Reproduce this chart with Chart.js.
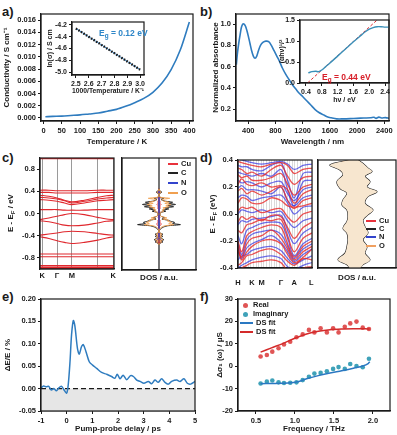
<!DOCTYPE html>
<html>
<head>
<meta charset="utf-8">
<script src="https://cdn.jsdelivr.net/npm/chart.js@4.4.1/dist/chart.umd.min.js"></script>
<style>
  body { margin: 0; width: 397px; height: 435px; position: relative; overflow: hidden; background: #fff;
         font-family: 'Liberation Sans', Arial, sans-serif; color: #1a1a1a; }
  canvas { position: absolute; }
  .pl { position: absolute; font-weight: bold; font-size: 13px; }
  .t { position: absolute; font-weight: bold; font-size: 8px; white-space: nowrap; line-height: 10px; }
  .rot { transform: translate(-50%, -50%) rotate(-90deg); }
  .lg { position: absolute; font-weight: bold; font-size: 7.5px; white-space: nowrap; line-height: 8px; }
  .lg i { display: inline-block; width: 10px; height: 1.5px; vertical-align: middle; margin-right: 3px; }
  .lg b { display: inline-block; width: 5px; height: 5px; border-radius: 50%; vertical-align: middle; margin: 0 5px 0 3px; }
  sub { font-size: 0.75em; line-height: 0; vertical-align: -2px; }
</style>
</head>
<body>
<div class="pl" style="left:2px;top:4px">a)</div>
<div class="pl" style="left:200px;top:4px">b)</div>
<div class="pl" style="left:2px;top:150px">c)</div>
<div class="pl" style="left:200px;top:150px">d)</div>
<div class="pl" style="left:2px;top:289px">e)</div>
<div class="pl" style="left:200px;top:289px">f)</div>

<script>
// ---- a) conductivity vs temperature
const tempK = [5, 25, 50, 75, 100, 125, 150, 175, 200, 225, 250, 275, 300, 325, 350, 375, 400];
const sigma = [0.0002, 0.00025, 0.0003, 0.0004, 0.0005, 0.00065, 0.0008, 0.0011, 0.0014, 0.0019,
               0.0025, 0.0032, 0.0042, 0.0057, 0.0079, 0.0111, 0.0157];
const aXTicks = [0, 50, 100, 150, 200, 250, 300, 350, 400];
const aYTicks = [0, 0.002, 0.004, 0.006, 0.008, 0.010, 0.012, 0.014, 0.016];
// a) inset: Arrhenius plot
const invT = [2.50, 2.55, 2.60, 2.65, 2.70, 2.75, 2.80, 2.85, 2.90, 2.95, 3.00];
const lnSigma = [-4.26, -4.33, -4.40, -4.47, -4.54, -4.61, -4.68, -4.75, -4.82, -4.89, -4.96];
const aiXTicks = [2.5, 2.6, 2.7, 2.8, 2.9, 3.0];
const aiYTicks = [-5.0, -4.8, -4.6, -4.4, -4.2];

// ---- b) absorbance
const wavelength = [225, 240, 260, 280, 300, 320, 340, 360, 380, 400, 425, 450, 475, 500, 525, 550, 580, 620, 660, 700,
                    740, 780, 820, 860, 900, 950, 1000, 1050, 1100, 1150, 1200, 1260, 1320, 1380, 1440, 1500, 1560, 1620,
                    1700, 1800, 1900, 2000, 2100, 2200, 2250, 2280, 2320, 2360, 2420, 2470];
const absorb = [0.62, 0.72, 0.82, 0.9, 0.97, 1.0, 1.0, 0.98, 0.94, 0.89, 0.82, 0.75, 0.7, 0.68, 0.7, 0.75, 0.8, 0.83, 0.84, 0.835,
                0.8, 0.75, 0.7, 0.65, 0.59, 0.53, 0.48, 0.43, 0.39, 0.35, 0.32, 0.28, 0.24, 0.2, 0.17, 0.15, 0.13, 0.12,
                0.11, 0.11, 0.112, 0.115, 0.118, 0.12, 0.125, 0.115, 0.126, 0.118, 0.122, 0.115];
const bXTicks = [400, 800, 1200, 1600, 2000, 2400];
const bYTicks = [0.2, 0.4, 0.6, 0.8, 1.0];
// b) inset: Tauc plot
const photonE = [0.46, 0.55, 0.65, 0.72, 0.8, 0.9, 1.0, 1.2, 1.4, 1.6, 1.8, 1.9, 2.0, 2.1, 2.2, 2.3, 2.4, 2.5];
const tauc = [0.24, 0.27, 0.28, 0.27, 0.31, 0.39, 0.47, 0.64, 0.81, 0.98, 1.14, 1.22, 1.28, 1.32, 1.34, 1.34, 1.33, 1.33];
const taucFitE = [0.44, 2.2];
const taucFitY = [0.0, 1.5];
const biXTicks = [0.4, 0.8, 1.2, 1.6, 2.0, 2.4];
const biYTicks = [0.0, 0.5, 1.0, 1.5];

// ---- c) band structure + DOS
const kC = [0, 0.12, 0.23, 0.33, 0.43, 0.6, 0.78, 0.9, 1];
const kCTicks = [0.03, 0.23, 0.43, 0.78, 0.99];
const kCLabels = ['K', 'Γ', 'M', '', 'K'];
const bandsC = [
  [0.995, 0.995, 0.995, 0.995, 0.995, 0.995, 0.995, 0.995, 0.995],
  [0.42, 0.42, 0.41, 0.41, 0.41, 0.41, 0.42, 0.42, 0.42],
  [0.38, 0.38, 0.37, 0.37, 0.37, 0.37, 0.38, 0.38, 0.38],
  [0.33, 0.31, 0.28, 0.24, 0.21, 0.24, 0.29, 0.32, 0.33],
  [0.29, 0.28, 0.26, 0.23, 0.19, 0.22, 0.26, 0.28, 0.29],
  [0.25, 0.24, 0.22, 0.19, 0.16, 0.19, 0.23, 0.24, 0.25],
  [0.07, 0.07, 0.07, 0.06, 0.06, 0.06, 0.07, 0.07, 0.07],
  [-0.11, -0.08, -0.05, -0.02, 0.0, -0.02, -0.07, -0.1, -0.11],
  [-0.13, -0.15, -0.18, -0.21, -0.22, -0.21, -0.17, -0.14, -0.13],
  [-0.39, -0.37, -0.35, -0.33, -0.32, -0.33, -0.36, -0.38, -0.39],
  [-0.42, -0.45, -0.49, -0.52, -0.54, -0.52, -0.48, -0.44, -0.42],
  [-0.73, -0.73, -0.73, -0.73, -0.73, -0.73, -0.73, -0.73, -0.73],
  [-0.78, -0.78, -0.78, -0.78, -0.78, -0.78, -0.78, -0.78, -0.78],
  [-0.94, -0.94, -0.94, -0.94, -0.94, -0.94, -0.94, -0.94, -0.94],
  [-0.975, -0.975, -0.975, -0.975, -0.975, -0.975, -0.975, -0.975, -0.975]
];
const cYTicks = [-0.8, -0.4, 0.0, 0.4, 0.8];
const dosCE = [0.45, 0.41, 0.39, 0.37, 0.34, 0.30, 0.28, 0.26, 0.23, 0.21, 0.19, 0.17, 0.15, 0.13, 0.11, 0.09, 0.07, 0.05, 0.03, 0.0,
               -0.04, -0.07, -0.09, -0.11, -0.13, -0.15, -0.17, -0.19, -0.21, -0.23, -0.26, -0.30, -0.34, -0.36, -0.38, -0.40,
               -0.42, -0.44, -0.46, -0.48, -0.50, -0.52, -0.55];
const dosCC = [0, 1, 3, 1, 0, 1, 5, 2, 6, 14, 10, 17, 9, 15, 6, 10, 4, 7, 2, 1,
               2, 6, 3, 9, 12, 16, 14, 22, 9, 5, 2, 0, 1, 4, 2, 4, 1, 3, 5, 2, 4, 1, 0];
const dosCO = [0, 1, 2, 1, 0, 1, 11, 3, 5, 10, 6, 12, 7, 10, 4, 6, 3, 5, 2, 1,
               2, 8, 4, 10, 9, 13, 10, 15, 6, 3, 1, 0, 1, 3, 1, 3, 1, 2, 4, 1, 3, 1, 0];
const dosCN = [0, 0, 0, 0, 0, 0, 0, 0, 0, 0, 0, 0, 0, 0, 0, 0, 0, 0, 0, 0,
               0, 0, 0, 0, 0, 0, 0, 0, 0, 0, 0, 0, 0, 0, 0, 0, 0, 1, 2, 3, 3, 1, 0];
const dosCCu = [0, 0, 1, 0, 0, 0, 1, 0, 1, 1, 1, 2, 1, 1, 1, 1, 0, 1, 0, 0,
                0, 1, 0, 1, 1, 1, 2, 2, 1, 0, 0, 0, 0, 1, 0, 1, 0, 1, 1, 1, 1, 0, 0];

// ---- d) band structure + DOS
const kD = [0, 0.05, 0.12, 0.19, 0.32, 0.45, 0.58, 0.67, 0.76, 0.88, 1];
const kDTicks = [0, 0.19, 0.32, 0.58, 0.76, 0.99];
const kDLabels = ['H', 'K', 'M', 'Γ', 'A', 'L'];
const bandsDRed = [
  [0.39, 0.38, 0.37, 0.36, 0.35, 0.37, 0.38, 0.36, 0.30, 0.33, 0.34],
  [0.34, 0.33, 0.30, 0.31, 0.28, 0.33, 0.36, 0.28, 0.22, 0.27, 0.28],
  [0.29, 0.27, 0.28, 0.25, 0.25, 0.27, 0.30, 0.22, 0.14, 0.20, 0.22],
  [0.22, 0.26, 0.22, 0.21, 0.23, 0.20, 0.21, 0.18, 0.08, 0.15, 0.18],
  [0.17, 0.19, 0.15, 0.17, 0.14, 0.17, 0.20, 0.10, 0.04, 0.10, 0.12],
  [0.08, 0.12, 0.11, 0.08, 0.08, 0.12, 0.10, 0.06, 0.05, 0.06, 0.08],
  [0.02, 0.05, 0.04, 0.05, 0.01, 0.03, 0.04, -0.02, -0.06, 0.0, 0.02],
  [-0.06, -0.02, -0.04, -0.02, -0.05, -0.01, -0.02, -0.10, -0.18, -0.10, -0.06],
  [-0.12, -0.14, -0.08, -0.07, -0.04, -0.05, -0.04, -0.16, -0.28, -0.18, -0.14],
  [-0.20, -0.28, -0.16, -0.13, -0.10, -0.08, -0.10, -0.22, -0.32, -0.24, -0.20],
  [-0.26, -0.32, -0.22, -0.18, -0.16, -0.12, -0.18, -0.26, -0.34, -0.28, -0.24],
  [-0.24, -0.34, -0.28, -0.24, -0.20, -0.19, -0.22, -0.30, -0.36, -0.32, -0.26],
  [-0.38, -0.36, -0.31, -0.30, -0.27, -0.26, -0.30, -0.35, -0.38, -0.33, -0.34],
  [-0.42, -0.40, -0.38, -0.36, -0.35, -0.34, -0.36, -0.42, -0.44, -0.40, -0.39]
];
const bandsDBlue = [
  [0.41, 0.40, 0.39, 0.38, 0.37, 0.38, 0.39, 0.37, 0.33, 0.36, 0.37],
  [0.36, 0.35, 0.35, 0.33, 0.32, 0.36, 0.38, 0.25, 0.12, 0.30, 0.31],
  [0.31, 0.30, 0.29, 0.28, 0.30, 0.28, 0.33, 0.18, 0.06, 0.24, 0.25],
  [0.25, 0.23, 0.24, 0.23, 0.20, 0.23, 0.24, 0.15, 0.10, 0.18, 0.20],
  [0.19, 0.21, 0.18, 0.18, 0.17, 0.15, 0.20, 0.10, 0.06, 0.12, 0.14],
  [0.12, 0.14, 0.13, 0.10, 0.12, 0.13, 0.14, 0.08, 0.0, 0.05, 0.06],
  [0.0, 0.03, 0.02, 0.01, 0.03, 0.01, 0.02, -0.05, -0.10, -0.05, -0.03],
  [-0.08, -0.05, -0.06, -0.04, -0.03, -0.02, -0.01, -0.12, -0.22, -0.14, -0.10],
  [-0.16, -0.22, -0.12, -0.10, -0.07, -0.06, -0.07, -0.18, -0.31, -0.22, -0.18],
  [-0.22, -0.30, -0.19, -0.15, -0.13, -0.12, -0.15, -0.24, -0.33, -0.26, -0.22],
  [-0.28, -0.33, -0.25, -0.22, -0.19, -0.16, -0.21, -0.28, -0.35, -0.30, -0.26],
  [-0.34, -0.31, -0.30, -0.27, -0.25, -0.24, -0.27, -0.33, -0.37, -0.34, -0.31],
  [-0.40, -0.38, -0.36, -0.34, -0.32, -0.31, -0.33, -0.39, -0.41, -0.38, -0.36]
];
const dYTicks = [-0.4, -0.2, 0.0, 0.2, 0.4];
const dosDER = [0.40, 0.375, 0.34, 0.315, 0.28, 0.24, 0.20, 0.165, 0.13, 0.08, 0.03, -0.005, -0.045, -0.095, -0.14, -0.19, -0.24, -0.29, -0.34, -0.375, -0.40];
const dosDCR = [3, 8, 13, 17, 10, 15, 12, 22, 13, 10, 18, 13, 8, 10, 13, 8, 12, 10, 15, 8, 5];
const dosDOR = [2, 6, 10, 13, 8, 12, 9, 16, 10, 8, 14, 10, 6, 8, 10, 6, 9, 8, 11, 6, 4];
const dosDEL = [0.40, 0.363, 0.326, 0.289, 0.24, 0.19, 0.154, 0.104, 0.067, 0.03, -0.019, -0.056, -0.105, -0.142, -0.191, -0.24, -0.29, -0.339, -0.376, -0.40];
const dosDCL = [-5, -25, -15, -12, -18, -15, -8, -12, -13, -8, -7, -8, -12, -8, -7, -8, -10, -17, -8, -5];
const dosDOL = [-4, -19, -11, -9, -14, -11, -6, -9, -10, -6, -5, -6, -9, -6, -5, -6, -8, -13, -6, -4];
const dosDCuE = [0.40, 0.0, -0.40];
const dosDCu = [1.8, 1.0, 0.2];
const dosDNE = [0.40, 0.30, 0.20, 0.10, 0.0, -0.20, -0.40];
const dosDN = [-1.5, -1.2, -1.0, -0.5, 0.0, 0.3, 0.5];

// ---- e) pump-probe
const delay = [-1.0, -0.9, -0.8, -0.7, -0.6, -0.5, -0.4, -0.3, -0.2, -0.1, 0.0, 0.06, 0.13, 0.19, 0.26, 0.32, 0.42, 0.49, 0.58, 0.65,
               0.75, 0.88, 1.0, 1.17, 1.36, 1.56, 1.75, 1.88, 1.97, 2.08, 2.2, 2.34, 2.49, 2.6, 2.73, 2.86, 3.01, 3.18, 3.31, 3.44,
               3.57, 3.7, 3.83, 3.96, 4.09, 4.29, 4.42, 4.57, 4.7, 4.83, 5.0];
const dEE = [0.002, 0.006, 0.004, 0.005, -0.003, 0.0, -0.005, 0.002, 0.005, -0.003, -0.01, 0.008, 0.06, 0.12, 0.152, 0.14, 0.09, 0.077, 0.094, 0.098,
             0.083, 0.06, 0.053, 0.045, 0.036, 0.032, 0.027, 0.023, 0.032, 0.022, 0.03, 0.02, 0.029, 0.027, 0.019, 0.016, 0.012, 0.016, 0.011, 0.019,
             0.014, 0.022, 0.014, 0.01, 0.016, 0.019, 0.016, 0.022, 0.012, 0.01, 0.016];
const eXTicks = [-1, 0, 1, 2, 3, 4, 5];
const eYTicks = [-0.05, 0.0, 0.05, 0.10, 0.15, 0.20];

// ---- f) THz conductivity
const freq = [0.56, 0.64, 0.71, 0.79, 0.86, 0.94, 1.02, 1.10, 1.18, 1.25, 1.33, 1.41, 1.49, 1.56, 1.64, 1.71, 1.79, 1.87, 1.95];
const realPart = [4.3, 5.0, 6.5, 8.0, 9.7, 10.9, 12.9, 14.2, 16.2, 15.1, 16.9, 15.1, 16.9, 15.1, 17.6, 19.1, 19.9, 17.2, 16.6];
const imagPart = [-7.7, -6.9, -6.4, -7.2, -7.5, -7.4, -7.2, -6.2, -4.7, -3.3, -3.0, -2.3, -1.2, -0.4, -1.2, 1.0, 0.1, -0.5, 3.3];
const fitRealF = [0.56, 0.7, 0.85, 1.0, 1.15, 1.3, 1.45, 1.6, 1.75, 1.9, 1.96];
const fitReal = [6.3, 8.2, 10.2, 12.5, 14.4, 15.6, 16.3, 16.6, 16.7, 16.7, 16.6];
const fitImagF = [0.56, 0.7, 0.85, 0.95, 1.05, 1.15, 1.3, 1.45, 1.6, 1.75, 1.88, 1.94, 1.96];
const fitImag = [-7.8, -7.7, -7.6, -7.4, -6.8, -5.6, -4.2, -3.0, -2.0, -0.9, 0.2, 1.2, 2.0];
const fXTicks = [0.5, 1.0, 1.5, 2.0];
const fYTicks = [-20, -10, 0, 10, 20, 30];

const BLUE = '#2f7cbf';
const RED = '#e0282e';
const INK = '#1a1a1a';

Chart.defaults.font.family = "'Liberation Sans', Arial, sans-serif";
Chart.defaults.font.weight = 'bold';
Chart.defaults.font.size = 7.5;
Chart.defaults.color = INK;
Chart.defaults.animation = false;
Chart.defaults.plugins.legend.display = false;
Chart.defaults.plugins.tooltip.enabled = false;

// box around every plot area
Chart.register({
  id: 'frame',
  afterDatasetsDraw(c) {
    const a = c.chartArea, ctx = c.ctx;
    ctx.save();
    ctx.strokeStyle = INK;
    ctx.lineWidth = 1.2;
    ctx.strokeRect(a.left, a.top, a.right - a.left, a.bottom - a.top);
    ctx.restore();
  }
});

const pts = (xs, ys) => xs.map((x, i) => ({ x, y: ys[i] }));

function axis(o) {
  return {
    type: 'linear',
    position: o.pos,
    min: o.min,
    max: o.max,
    afterBuildTicks: sc => { if (o.ticks) sc.ticks = o.ticks.map(v => ({ value: v })); },
    ticks: {
      display: !!o.ticks,
      autoSkip: false,
      maxRotation: 0,
      padding: 2,
      font: { size: o.fs || 7.5 },
      callback: (v, i) => o.labels ? o.labels[i] : v.toFixed(o.dp || 0)
    },
    grid: o.grid || { drawOnChartArea: false, tickLength: 3, color: INK, lineWidth: 1 },
    border: { color: INK, width: 1.2 },
    title: o.title ? { display: true, text: o.title, font: { size: o.tfs || 8 }, padding: { top: o.tpad || 0, bottom: 1 } } : { display: false }
  };
}

function makeChart(box, area, config) {
  const cv = document.createElement('canvas');
  cv.width = box.r - box.l;
  cv.height = box.b - box.t;
  cv.style.left = box.l + 'px';
  cv.style.top = box.t + 'px';
  document.body.appendChild(cv);
  const o = config.options;
  o.responsive = false;
  o.layout = { padding: { left: 0, top: area.t - box.t, right: box.r - area.r, bottom: 0 } };
  const yW = area.l - box.l, xH = box.b - area.b;
  Object.values(o.scales).forEach(s => {
    s.afterFit = sc => {
      if (sc.isHorizontal()) sc.height = s.position === 'top' ? 0 : xH;
      else sc.width = yW;
      sc.paddingLeft = sc.paddingRight = sc.paddingTop = sc.paddingBottom = 0;
    };
  });
  return new Chart(cv, config);
}

const line = (data, color, width, extra) => Object.assign({ data, borderColor: color, borderWidth: width, pointRadius: 0, tension: 0, fill: false }, extra || {});

// a) main
makeChart({ l: 0, t: 0, r: 197, b: 148 }, { l: 41, t: 14, r: 193, b: 121 }, {
  type: 'line',
  data: { datasets: [line(pts(tempK, sigma), BLUE, 1.6, { cubicInterpolationMode: 'monotone' })] },
  options: { scales: {
    x: axis({ min: -7, max: 410, ticks: aXTicks, title: 'Temperature / K' }),
    y: axis({ min: -0.0005, max: 0.017, ticks: aYTicks, dp: 3, title: 'Conductivity / S cm⁻¹', tpad: 2 })
  } }
});
// a) inset
makeChart({ l: 46, t: 18, r: 150, b: 96 }, { l: 72, t: 22, r: 144, b: 75 }, {
  type: 'line',
  data: { datasets: [
    line(pts(invT, lnSigma), INK, 2.4, { borderDash: [1.5, 1.5] }),
    line(pts(invT, lnSigma), BLUE, 1.0)
  ] },
  options: { scales: {
    x: axis({ min: 2.47, max: 3.03, ticks: aiXTicks, dp: 1, fs: 7, title: '1000/Temperature / K⁻¹', tfs: 7 }),
    y: axis({ min: -5.05, max: -4.15, ticks: aiYTicks, dp: 1, fs: 7, title: 'ln(σ) / S cm', tfs: 7 })
  } }
});

// b) main
makeChart({ l: 208, t: 0, r: 397, b: 148 }, { l: 236, t: 14, r: 389, b: 121 }, {
  type: 'line',
  data: { datasets: [line(pts(wavelength, absorb), BLUE, 1.6, { tension: 0.3 })] },
  options: { scales: {
    x: axis({ min: 220, max: 2470, ticks: bXTicks, title: 'Wavelength / nm' }),
    y: axis({ min: 0.09, max: 1.095, ticks: bYTicks, dp: 1, title: 'Normalized absorbance', tpad: 3 })
  } }
});
// b) inset
makeChart({ l: 278, t: 16, r: 393, b: 105 }, { l: 300, t: 20, r: 389, b: 83 }, {
  type: 'line',
  data: { datasets: [
    line(pts(photonE, tauc), '#3a8fb8', 1.4, { tension: 0.3 }),
    line(pts(taucFitE, taucFitY), RED, 1.0, { borderDash: [3, 2] })
  ] },
  options: { scales: {
    x: axis({ min: 0.25, max: 2.5, ticks: biXTicks, dp: 1, fs: 7, title: 'hν / eV', tfs: 7 }),
    y: axis({ min: 0, max: 1.5, ticks: biYTicks, dp: 1, fs: 7, title: '(αhν)¹/²', tfs: 7 })
  } }
});

// c) bands
makeChart({ l: 0, t: 148, r: 118, b: 290 }, { l: 40, t: 158, r: 114, b: 269 }, {
  type: 'line',
  data: { datasets: bandsC.map((b, i) => line(pts(kC, b), RED, (i === 0 || i === bandsC.length - 1) ? 2 : 1.1, { tension: 0.35 })) },
  options: { scales: {
    x: axis({ min: 0, max: 1, ticks: kCTicks, labels: kCLabels, grid: { color: '#9a9a9a', lineWidth: 1, drawTicks: false } }),
    y: axis({ min: -1, max: 1, ticks: cYTicks, dp: 1 })
  } }
});
// c) DOS
const dosC = [[dosCO, '#f0a050'], [dosCC, INK], [dosCN, '#3344cc'], [dosCCu, RED]];
const dosCSets = [];
dosC.forEach(([v, col]) => {
  dosCSets.push(line(pts(v, dosCE), col, 1.0, { tension: 0.15 }));
  dosCSets.push(line(pts(v.map(d => -d), dosCE), col, 1.0, { tension: 0.15 }));
});
dosCSets.push(line(pts([0, 0], [-1, 1]), INK, 1.2));
makeChart({ l: 118, t: 148, r: 200, b: 284 }, { l: 122, t: 158, r: 196, b: 270 }, {
  type: 'line',
  data: { datasets: dosCSets },
  options: { scales: {
    x: axis({ min: -38, max: 38, title: 'DOS / a.u.', grid: { display: false } }),
    y: axis({ min: -1, max: 1, grid: { display: false } })
  } }
});

// d) bands
const dSets = [];
bandsDRed.forEach(b => dSets.push(line(pts(kD, b), 'rgba(232,40,40,0.8)', 1.3, { tension: 0.35 })));
bandsDBlue.forEach(b => dSets.push(line(pts(kD, b), 'rgba(50,50,225,0.7)', 1.3, { tension: 0.35 })));
makeChart({ l: 200, t: 148, r: 315, b: 290 }, { l: 238, t: 160, r: 312, b: 268 }, {
  type: 'line',
  data: { datasets: dSets },
  options: { scales: {
    x: axis({ min: 0, max: 1, ticks: kDTicks, labels: kDLabels, grid: { display: false } }),
    x2: { type: 'linear', position: 'top', min: 0, max: 1, ticks: { display: false, stepSize: 0.035 },
          grid: { color: '#d0d0d0', lineWidth: 0.8, drawTicks: false }, border: { display: false } },
    y: axis({ min: -0.4, max: 0.4, ticks: dYTicks, dp: 1 })
  } }
});
// d) DOS
const dosDShape = pts(dosDCR, dosDER).concat(pts(dosDCL, dosDEL).reverse());
makeChart({ l: 315, t: 148, r: 397, b: 284 }, { l: 318, t: 160, r: 396, b: 268 }, {
  type: 'line',
  data: { datasets: [
    line(dosDShape, 'rgba(0,0,0,0)', 0, { fill: 'shape', backgroundColor: '#f7e6cf', tension: 0.35 }),
    line(pts(dosDOR, dosDER), '#f0a060', 1.0, { tension: 0.35 }),
    line(pts(dosDOL, dosDEL), '#f0a060', 1.0, { tension: 0.35 }),
    line(pts(dosDCR, dosDER), INK, 1.1, { tension: 0.35 }),
    line(pts(dosDCL, dosDEL), INK, 1.1, { tension: 0.35 }),
    line(pts(dosDN, dosDNE), '#5a3fd0', 1.6, { tension: 0.3 }),
    line(pts(dosDCu, dosDCuE), RED, 2.0)
  ] },
  options: { scales: {
    x: axis({ min: -37, max: 41, title: 'DOS / a.u.', grid: { display: false } }),
    y: axis({ min: -0.4, max: 0.4, grid: { display: false } })
  } }
});

// e) pump-probe
makeChart({ l: 0, t: 290, r: 200, b: 435 }, { l: 41, t: 299, r: 195, b: 411 }, {
  type: 'line',
  data: { datasets: [line(pts(delay, dEE), BLUE, 1.5, { tension: 0.3 })] },
  options: { scales: {
    x: axis({ min: -1, max: 5, ticks: eXTicks, title: 'Pump-probe delay / ps' }),
    y: axis({ min: -0.05, max: 0.2, ticks: eYTicks, dp: 2, title: 'ΔE/E / %', tpad: 3 })
  } },
  plugins: [{
    id: 'shadeBelowZero',
    beforeDatasetsDraw(c) {
      const { ctx, chartArea: a, scales: { y } } = c;
      const y0 = y.getPixelForValue(0);
      ctx.save();
      ctx.fillStyle = '#e6e6e6';
      ctx.fillRect(a.left, y0, a.right - a.left, a.bottom - y0);
      ctx.strokeStyle = INK;
      ctx.lineWidth = 1.2;
      ctx.setLineDash([5, 3]);
      ctx.beginPath();
      ctx.moveTo(a.left, y0);
      ctx.lineTo(a.right, y0);
      ctx.stroke();
      ctx.restore();
    }
  }]
});

// f) THz
makeChart({ l: 212, t: 290, r: 397, b: 435 }, { l: 238, t: 299, r: 390, b: 411 }, {
  type: 'line',
  data: { datasets: [
    line(pts(fitRealF, fitReal), '#d42a2a', 1.5, { tension: 0.3 }),
    line(pts(fitImagF, fitImag), '#2a78c2', 1.5, { tension: 0.3 }),
    { data: pts(freq, realPart), showLine: false, pointRadius: 2.3, pointBackgroundColor: '#e05555', pointBorderWidth: 0 },
    { data: pts(freq, imagPart), showLine: false, pointRadius: 2.3, pointBackgroundColor: '#3fa2b9', pointBorderWidth: 0 }
  ] },
  options: { scales: {
    x: axis({ min: 0.27, max: 2.22, ticks: fXTicks, dp: 1, title: 'Frequency / THz' }),
    y: axis({ min: -20, max: 30, ticks: fYTicks, title: 'Δσ₁ (ω) / μS', tpad: 3 })
  } }
});
</script>

<!-- annotations -->
<div class="t" style="left:99px;top:28px;color:#2e86c8;font-size:8.5px">E<sub>g</sub> = 0.12 eV</div>
<div class="t" style="left:322px;top:72px;color:#d8202a;font-size:8.5px">E<sub>g</sub> = 0.44 eV</div>
<div class="t rot" style="left:11px;top:213px">E - E<sub>F</sub> / eV</div>
<div class="t rot" style="left:213px;top:214px">E - E<sub>F</sub> (eV)</div>

<div class="lg" style="left:168px;top:160px"><i style="background:#e8323c"></i>Cu</div>
<div class="lg" style="left:168px;top:169px"><i style="background:#222"></i>C</div>
<div class="lg" style="left:168px;top:179px"><i style="background:#3344cc"></i>N</div>
<div class="lg" style="left:168px;top:189px"><i style="background:#f0a050"></i>O</div>

<div class="lg" style="left:366px;top:217px"><i style="background:#e8323c"></i>Cu</div>
<div class="lg" style="left:366px;top:225px"><i style="background:#222"></i>C</div>
<div class="lg" style="left:366px;top:233px"><i style="background:#3344cc"></i>N</div>
<div class="lg" style="left:366px;top:242px"><i style="background:#f0a060"></i>O</div>

<div class="lg" style="left:240px;top:301px"><b style="background:#e05555"></b>Real</div>
<div class="lg" style="left:240px;top:310px"><b style="background:#3fa2b9"></b>Imaginary</div>
<div class="lg" style="left:240px;top:319px"><i style="background:#2a78c2;width:13px"></i>DS fit</div>
<div class="lg" style="left:240px;top:328px"><i style="background:#d42a2a;width:13px"></i>DS fit</div>
</body>
</html>
